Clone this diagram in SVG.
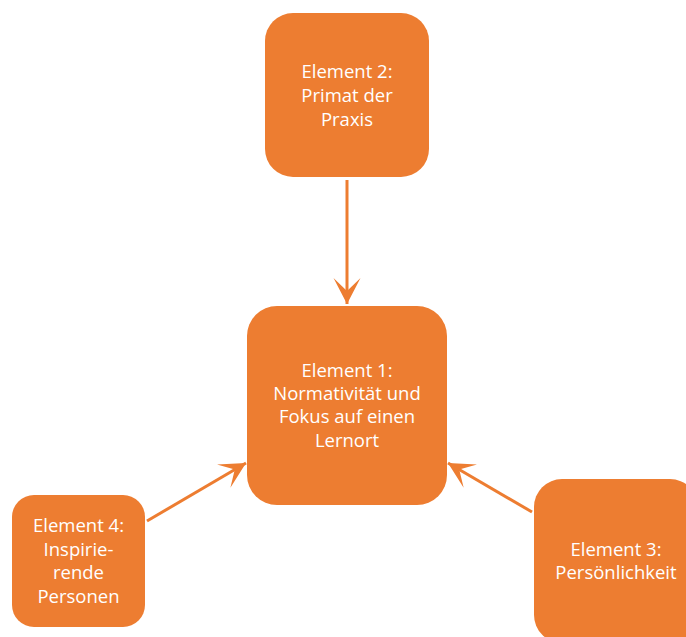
<svg xmlns="http://www.w3.org/2000/svg" width="686" height="637" viewBox="0 0 686 637">
  <style>
    .box { fill: #ED7D31; }
    .label { fill: #FFFFFF; font-family: "Open Sans", "Noto Sans", "DejaVu Sans", sans-serif; font-size: 18.5px; text-anchor: middle; }
    .link { stroke: #ED7D31; stroke-width: 3; fill: none; }
  </style>
  <defs>
    <marker id="head" markerUnits="userSpaceOnUse" viewBox="0 0 28 28" refX="26" refY="14" markerWidth="28" markerHeight="28" orient="auto">
      <path d="M26,14 L0,0.5 L13,14 L0,27.5 Z" fill="#ED7D31"/>
    </marker>
  </defs>
  <rect width="686" height="637" fill="#FFFFFF"/>

  <g id="connectors">
    <line class="link" x1="347" y1="180" x2="347" y2="304" marker-end="url(#head)"/>
    <line class="link" x1="147" y1="521" x2="246" y2="463" marker-end="url(#head)"/>
    <line class="link" x1="532" y1="512" x2="448" y2="463" marker-end="url(#head)"/>
  </g>

  <g id="element2">
    <rect class="box" x="265" y="13" width="164" height="164" rx="28"/>
    <text class="label"><tspan x="347" y="78">Element 2:</tspan><tspan x="347" y="102">Primat der</tspan><tspan x="347" y="126">Praxis</tspan></text>
  </g>

  <g id="element1">
    <rect class="box" x="247" y="306" width="200" height="199" rx="30"/>
    <text class="label"><tspan x="347" y="377">Element 1:</tspan><tspan x="347" y="400">Normativität und</tspan><tspan x="347" y="423">Fokus auf einen</tspan><tspan x="347" y="447">Lernort</tspan></text>
  </g>

  <g id="element4">
    <rect class="box" x="12" y="495" width="133" height="132" rx="22"/>
    <text class="label"><tspan x="78.5" y="532">Element 4:</tspan><tspan x="78.5" y="556">Inspirie-</tspan><tspan x="78.5" y="579">rende</tspan><tspan x="78.5" y="603">Personen</tspan></text>
  </g>

  <g id="element3">
    <rect class="box" x="534" y="479" width="164" height="164" rx="28"/>
    <text class="label"><tspan x="616" y="556">Element 3:</tspan><tspan x="616" y="579">Persönlichkeit</tspan></text>
  </g>
</svg>
